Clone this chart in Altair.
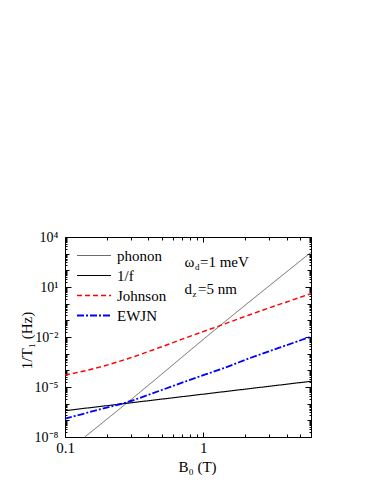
import altair as alt
import pandas as pd

# ---- data ----
series_names = ["phonon", "1/f", "Johnson", "EWJN"]
phonon_B = [0.139, 0.28, 1.26, 6.0]
phonon_rate = [1e-8, 1.1e-6, 3.5e-2, 1.2e3]
oneoverf_B = [0.1, 6.0]
oneoverf_rate = [3.8e-7, 2.2e-5]
johnson_B = [0.1, 0.178, 0.278, 0.5, 0.79, 1.26, 2.14, 3.5, 6.0]
johnson_rate = [5.2e-5, 1.55e-4, 4.7e-4, 2.6e-3, 1.05e-2, 4.2e-2, 0.21, 0.87, 4.0]
ewjn_B = [0.1, 0.178, 0.278, 0.5, 0.79, 1.54, 2.14, 3.5, 6.0]
ewjn_rate = [1.26e-7, 4.5e-7, 1.2e-6, 6.6e-6, 2.6e-5, 1.8e-4, 5.2e-4, 2.2e-3, 1.05e-2]

x_major = [0.1, 1]
x_minor = [0.2, 0.3, 0.4, 0.5, 0.6, 0.7, 0.8, 0.9, 2, 3, 4, 5, 6]
y_major = [1e-8, 1e-5, 1e-2, 1e1, 1e4]
y_decades = [10.0 ** n for n in range(-8, 5)]
y_minor = [m * 10.0 ** n for n in range(-8, 4) for m in range(2, 10)]

ann_x = [0.73]
ann1_y = [316]
ann2_y = [7.6]

FONT = "Liberation Serif"
W, H = 246, 200

rows = []
for name, bs, rs in [("phonon", phonon_B, phonon_rate), ("1/f", oneoverf_B, oneoverf_rate),
                     ("Johnson", johnson_B, johnson_rate), ("EWJN", ewjn_B, ewjn_rate)]:
    for i, (b, r) in enumerate(zip(bs, rs)):
        rows.append({"series": name, "B": b, "rate": r, "order": i})
df = pd.DataFrame(rows)

xscale = alt.Scale(type="log", domain=[0.1, 6], nice=False)
yscale = alt.Scale(type="log", domain=[1e-8, 1e4], nice=False)

leg = dict(orient="none", legendX=11, legendY=11, title=None, symbolType="stroke",
           symbolSize=1156, labelFont=FONT, labelFontSize=15, labelColor="black",
           clipHeight=15, rowPadding=4, labelOffset=5, padding=0)

colors = ["#444444", "#000000", "#ff0000", "#0000ff"]
dashes = [[1, 0], [1, 0], [5, 3], [7, 2, 2, 2]]
widths = [0.8, 1.8, 1.6, 1.4]

ylabel_expr = ("datum.value < 1e-7 ? '10⁻⁸' : datum.value < 1e-4 ? '10⁻⁵' : "
               "datum.value < 0.1 ? '10⁻²' : datum.value < 100 ? '10¹' : '10⁴'")

lines = alt.Chart(df).mark_line(interpolate="monotone").encode(
    x=alt.X("B:Q", scale=xscale,
            axis=alt.Axis(values=x_major, format="~g", ticks=False, domain=False, grid=False,
                          labelFont=FONT, labelFontSize=15, labelColor="black", labelPadding=3,
                          labelFlush=False,
                          title="B₀ (T)", titleFont=FONT, titleFontSize=15, titleFontWeight="normal",
                          titleColor="black", titleX=132, titleY=22)),
    y=alt.Y("rate:Q", scale=yscale,
            axis=alt.Axis(values=y_major, labelExpr=ylabel_expr, ticks=False, domain=False, grid=False,
                          labelFont=FONT, labelFontSize=14, labelColor="black", labelPadding=7,
                          labelFlush=False,
                          title="1/T₁ (Hz)", titleFont=FONT, titleFontSize=15, titleFontWeight="normal",
                          titleColor="black", titleX=-39, titleY=103, titleBaseline="middle")),
    color=alt.Color("series:N", scale=alt.Scale(domain=series_names, range=colors), legend=alt.Legend(**leg)),
    strokeDash=alt.StrokeDash("series:N", scale=alt.Scale(domain=series_names, range=dashes), legend=alt.Legend(**leg)),
    strokeWidth=alt.StrokeWidth("series:N", scale=alt.Scale(domain=series_names, range=widths), legend=alt.Legend(**leg)),
    order="order:Q",
)

x_all = x_major + x_minor
y_all = y_decades + y_minor
x_size = {"condition": {"test": "datum.value == 0.1 || datum.value == 1", "value": 5}, "value": 3}
y_size = {"condition": [
    {"test": "indexof([1e-8, 1e-5, 0.01, 10, 10000], datum.value) >= 0", "value": 6},
    {"test": "datum.value == 1e-7 || datum.value == 1e-6 || datum.value == 1e-4 || datum.value == 1e-3 || datum.value == 0.1 || datum.value == 1 || datum.value == 100 || datum.value == 1000", "value": 4},
], "value": 2}

def tick_axis(xorient, yorient):
    return alt.Chart(df).mark_point(opacity=0).encode(
        x=alt.X("B:Q", scale=xscale,
                axis=alt.Axis(orient=xorient, offset=-H, values=x_all, labels=False, domain=False,
                              grid=False, title=None, tickColor="black", tickWidth=1, tickSize=x_size)),
        y=alt.Y("rate:Q", scale=yscale,
                axis=alt.Axis(orient=yorient, offset=-W, values=y_all, labels=False, domain=False,
                              grid=False, title=None, tickColor="black", tickWidth=1, tickSize=y_size)),
    )

axA = tick_axis("top", "right")    # bottom & left inward ticks
axB = tick_axis("bottom", "left")  # top & right inward ticks

ann1 = pd.DataFrame({"x": ann_x, "y": ann1_y})
ann2 = pd.DataFrame({"x": ann_x, "y": ann2_y})

def txt(data, s, size=15, dx=0, dy=0):
    return alt.Chart(data).mark_text(text=s, font=FONT, fontSize=size, align="left",
                                     baseline="middle", dx=dx, dy=dy, color="black").encode(
        x=alt.X("x:Q", scale=xscale, axis=None),
        y=alt.Y("y:Q", scale=yscale, axis=None),
    )

texts = [
    txt(ann1, "ω"),
    txt(ann1, "d", size=9, dx=10.5, dy=5),
    txt(ann1, "=1 meV", dx=15.5),
    txt(ann2, "d"),
    txt(ann2, "z", size=9, dx=8, dy=5),
    txt(ann2, "=5 nm", dx=13.5),
]

chart = alt.layer(lines, axA, axB, *texts).resolve_axis(
    x="independent", y="independent"
).properties(
    width=W, height=H,
    autosize=alt.AutoSizeParams(type="none"),
    padding={"left": 57, "top": 229, "right": 10, "bottom": 46},
).configure_view(stroke="black", strokeWidth=1)

chart.save("out.html", embed_options={"renderer": "svg", "actions": False})
